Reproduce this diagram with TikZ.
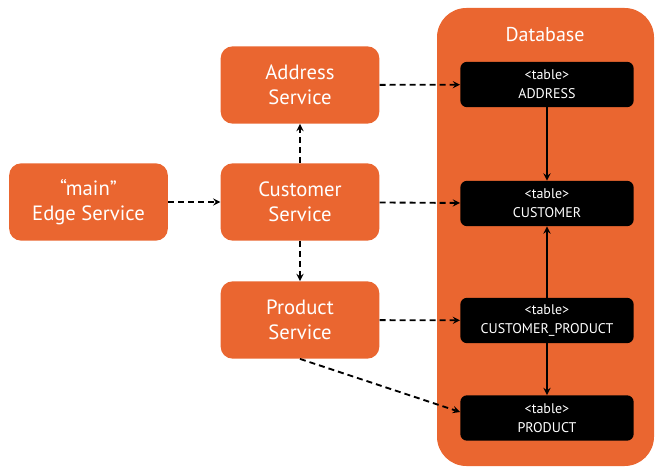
\documentclass[tikz,border=0pt]{standalone}
\usepackage{fontspec}
\setmainfont{PT Sans}
\definecolor{svcorange}{HTML}{EA6630}
\begin{document}
\begin{tikzpicture}[x=0.75pt,y=-0.75pt,
    service/.style={fill=svcorange,rounded corners=9pt,minimum width=119pt,minimum height=58pt,
        text=white,align=center,font=\fontsize{15.5}{19}\selectfont},
    table/.style={fill=black,rounded corners=5pt,minimum width=130pt,minimum height=34pt,
        text=white,align=center,font=\fontsize{10.5}{14.5}\selectfont},
    dasharrow/.style={line width=1.4pt,->,>=stealth,dash pattern=on 4.5pt off 3pt},
    solidarrow/.style={line width=1.4pt,->,>=stealth}]
	    \useasboundingbox (0,0) rectangle (668,474);
	    
        \fill[svcorange,rounded corners=22pt] (437,8) rectangle (654,466);
        \node[text=white,font=\fontsize{15}{17}\selectfont] (dbtitle) at (545,35) {Database};
        
        \node[service] (edge) at (88.5,202) {“main”\\Edge Service};
        \node[service] (address) at (300,85) {Address\\Service};
        \node[service] (customer) at (300,202) {Customer\\Service};
        \node[service] (product) at (300,320) {Product\\Service};
        
        \node[table] (taddress) at (547,84.5) {<table>\\ADDRESS};
        \node[table] (tcustomer) at (547,203.5) {<table>\\CUSTOMER};
        \node[table] (tcustprod) at (547,320.5) {<table>\\CUSTOMER\_PRODUCT};
        \node[table] (tproduct) at (547,418) {<table>\\PRODUCT};
        
        \draw[dasharrow] (edge) -- (customer);
        \draw[dasharrow] (customer) -- (address);
        \draw[dasharrow] (customer) -- (product);
        
        \draw[dasharrow] (address) -- (taddress);
        \draw[dasharrow] (customer) -- (tcustomer);
        \draw[dasharrow] (product) -- (tcustprod);
        \draw[dasharrow] (product.south) -- ([yshift=4.5pt]tproduct.west);
        
        \draw[solidarrow] (taddress) -- (tcustomer);
        \draw[solidarrow] (tcustprod) -- (tcustomer);
        \draw[solidarrow] (tcustprod) -- (tproduct);
	\end{tikzpicture}
\end{document}
